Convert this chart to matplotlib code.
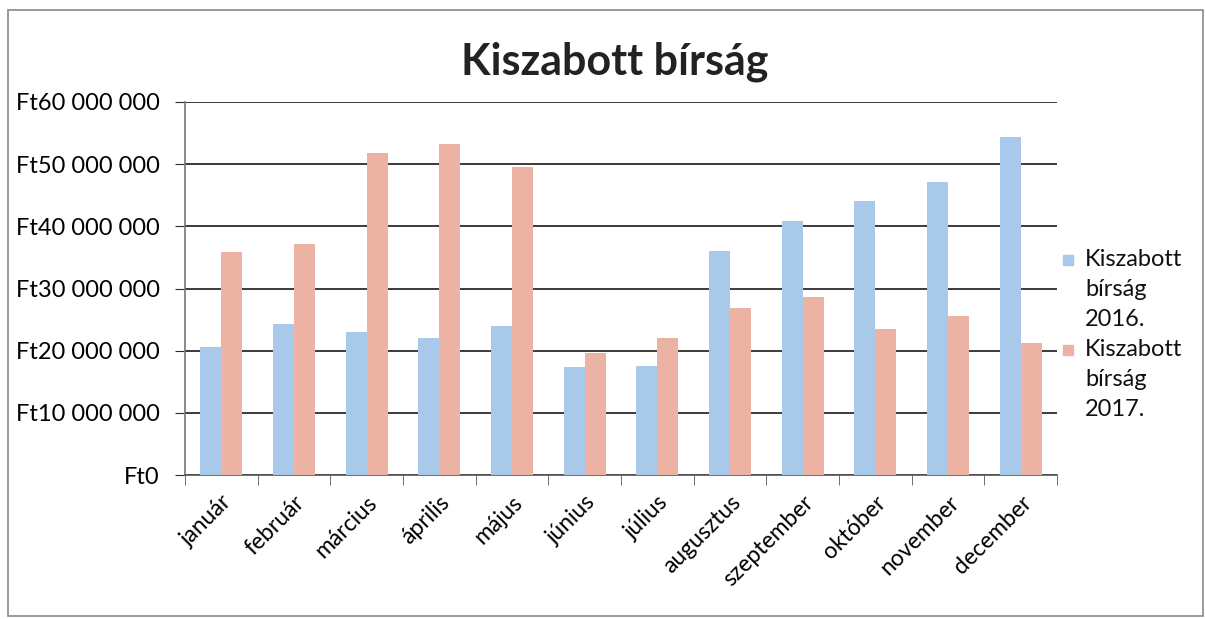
import matplotlib
matplotlib.use("Agg")
import matplotlib.pyplot as plt
import numpy as np
from matplotlib.ticker import FuncFormatter, MultipleLocator
from matplotlib.patches import Rectangle

months = ["január", "február", "március", "április", "május", "június",
          "július", "augusztus", "szeptember", "október", "november", "december"]
birsag_2016 = [20.6, 24.3, 23.0, 22.0, 23.9, 17.4, 17.5, 36.0, 40.8, 44.0, 47.2, 54.3]
birsag_2017 = [35.8, 37.2, 51.8, 53.3, 49.5, 19.7, 22.0, 26.8, 28.6, 23.5, 25.5, 21.3]
labels = ["Kiszabott\nbírság\n2016.", "Kiszabott\nbírság\n2017."]

blue = "#a9c9ea"
pink = "#ecb3a4"

plt.rcParams['font.family'] = ['Lato', 'DejaVu Sans']

W, H = 1205, 619
fig = plt.figure(figsize=(W / 100, H / 100), dpi=100)
# outer chart frame
fig.patches.append(Rectangle((8 / W, 3 / H), 1195 / W, 606 / H, transform=fig.transFigure,
                             fill=False, edgecolor="#8a8a8a", linewidth=1.2))
ax = fig.add_axes([185 / W, (H - 475) / H, 872 / W, 373 / H])

x = np.arange(len(months))
w = 0.29
ax.bar(x - w / 2, np.array(birsag_2016) * 1e6, w, color=blue, zorder=3)
ax.bar(x + w / 2, np.array(birsag_2017) * 1e6, w, color=pink, zorder=3)

ax.set_xlim(-0.5, len(months) - 0.5)
ax.set_ylim(0, 60e6)
ax.yaxis.set_major_locator(MultipleLocator(10e6))
ax.yaxis.set_major_formatter(FuncFormatter(
    lambda v, p: "Ft" + "{:,}".format(int(round(v))).replace(",", " ")))
ax.grid(axis="y", color="#2b2b2b", linewidth=1.3, zorder=0)

ax.set_xticks(x)
ax.set_xticklabels(months, rotation=45, ha="right", rotation_mode="anchor")
ax.set_xticks(np.arange(-0.5, len(months)), minor=True)
ax.tick_params(axis="x", which="major", length=0, pad=12, labelsize=16.5)
ax.tick_params(axis="x", which="minor", length=7, direction="out", color="#555555")
ax.tick_params(axis="y", length=7, color="#2b2b2b", labelsize=17, pad=11)

for s in ["top", "right"]:
    ax.spines[s].set_visible(False)
ax.spines["left"].set_color("#777777")
ax.spines["bottom"].set_color("#555555")
ax.spines["left"].set_linewidth(1.2)
ax.spines["bottom"].set_linewidth(1.2)

fig.text(615 / W, 1 - 62 / H, "Kiszabott bírság", ha="center", va="center",
         fontsize=31, fontweight="bold", color="#222222")

# legend, Excel style: marker beside the first line of a wrapped label
for lab, col, ytop in zip(labels, [blue, pink], [260, 350]):
    fig.patches.append(Rectangle((1063 / W, 1 - (ytop + 5) / H), 10 / W, 10 / H,
                                 transform=fig.transFigure, color=col))
    for k, line in enumerate(lab.split("\n")):
        fig.text(1085 / W, 1 - (ytop + 30 * k) / H, line, ha="left", va="center",
                 fontsize=17, color="#111111")

fig.savefig("out.png", dpi=100)
